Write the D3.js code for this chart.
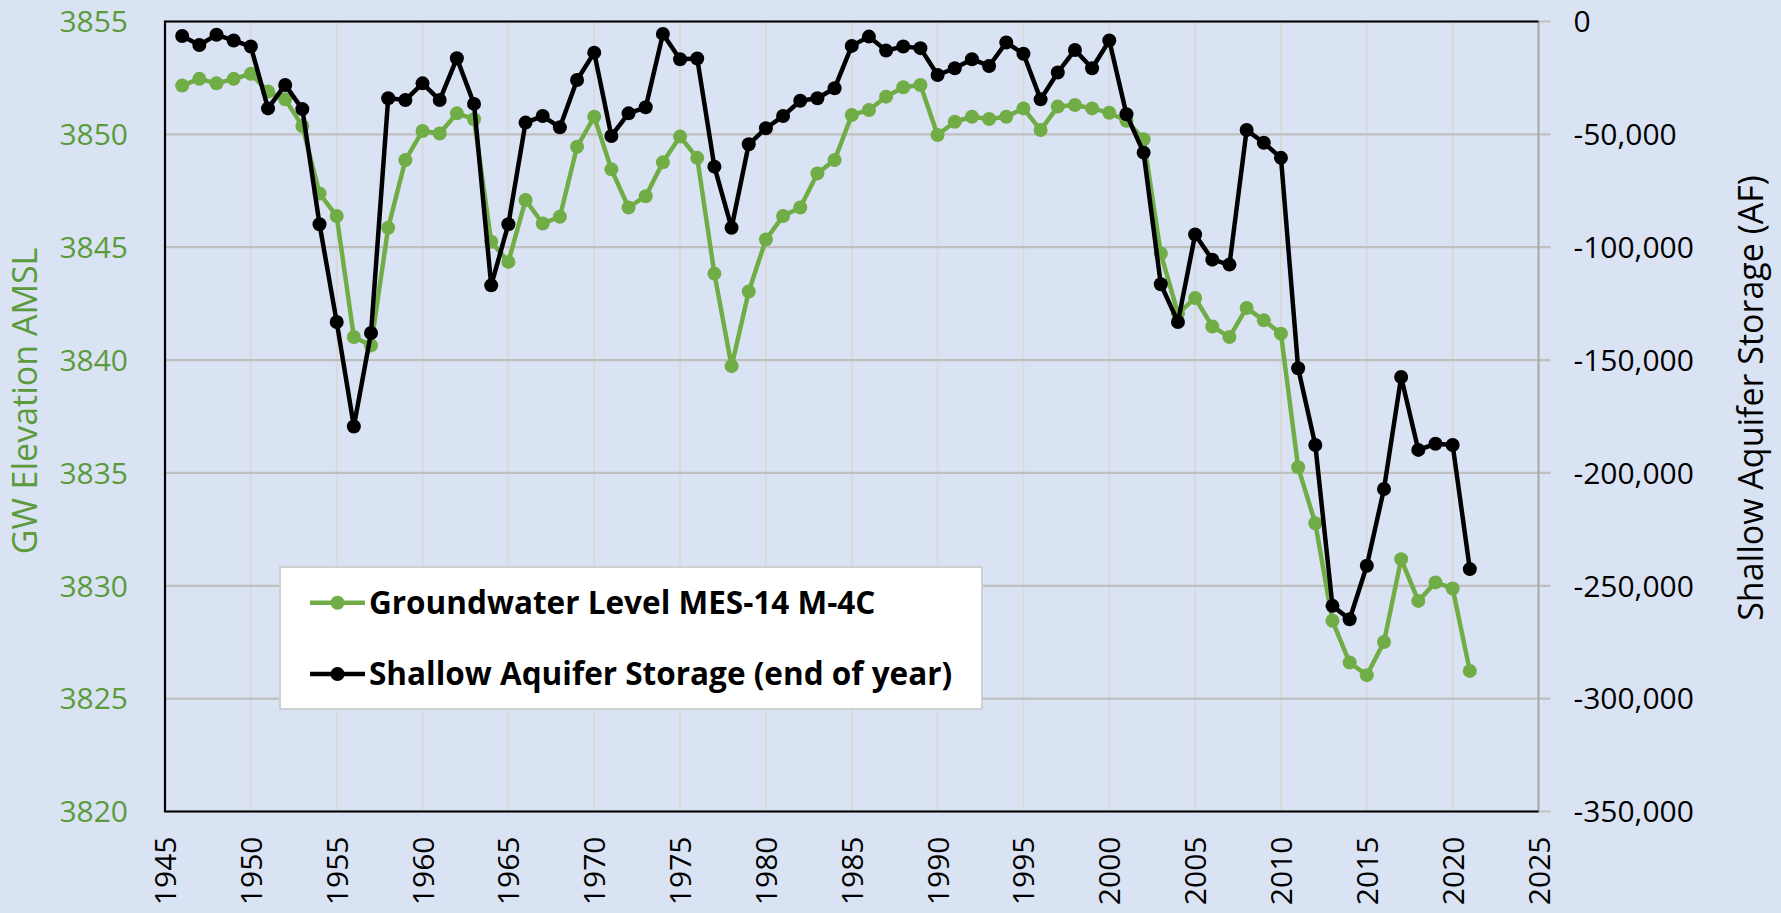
<!DOCTYPE html>
<html>
<head>
<meta charset="utf-8">
<script src="https://cdn.jsdelivr.net/npm/d3@7"></script>
<style>
    body { margin: 0; background: #DAE3F3; }
    svg { display: block; }
    text { font-family: "Open Sans", sans-serif; }
</style>
</head>
<body>
<div id="graphic"></div>
<script>
const years = [1946, 1947, 1948, 1949, 1950, 1951, 1952, 1953, 1954, 1955, 1956, 1957, 1958, 1959,
    1960, 1961, 1962, 1963, 1964, 1965, 1966, 1967, 1968, 1969, 1970, 1971, 1972, 1973, 1974, 1975,
    1976, 1977, 1978, 1979, 1980, 1981, 1982, 1983, 1984, 1985, 1986, 1987, 1988, 1989, 1990, 1991,
    1992, 1993, 1994, 1995, 1996, 1997, 1998, 1999, 2000, 2001, 2002, 2003, 2004, 2005, 2006, 2007,
    2008, 2009, 2010, 2011, 2012, 2013, 2014, 2015, 2016, 2017, 2018, 2019, 2020, 2021]

const gwLevel = [3852.16, 3852.46, 3852.26, 3852.46, 3852.68, 3851.90, 3851.55, 3850.37, 3847.38, 3846.38,
    3841.02, 3840.65, 3845.86, 3848.86, 3850.15, 3850.04, 3850.93, 3850.67, 3845.24, 3844.35,
    3847.09, 3846.05, 3846.35, 3849.45, 3850.78, 3848.45, 3846.76, 3847.26, 3848.76, 3849.90,
    3848.96, 3843.83, 3839.73, 3843.04, 3845.34, 3846.38, 3846.76, 3848.27, 3848.86, 3850.86,
    3851.08, 3851.67, 3852.09, 3852.19, 3849.97, 3850.56, 3850.78, 3850.68, 3850.78, 3851.15,
    3850.19, 3851.23, 3851.30, 3851.15, 3850.96, 3850.60, 3849.78, 3844.72, 3842.06, 3842.75,
    3841.49, 3841.02, 3842.31, 3841.76, 3841.17, 3835.25, 3832.77, 3828.45, 3826.60, 3826.04,
    3827.51, 3831.18, 3829.33, 3830.15, 3829.88, 3826.23]

const storage = [-6400, -10400, -5900, -8400, -11100, -38500, -28100, -38800, -89800, -133100,
    -179400, -138000, -34000, -34800, -27400, -34800, -16300, -36500, -116900, -89800,
    -44800, -41900, -46900, -25900, -13800, -50700, -40700, -38000, -5500, -16700,
    -16400, -64300, -91400, -54400, -47300, -41900, -35100, -34000, -29600, -10800,
    -6700, -12900, -11100, -11800, -23700, -20700, -16700, -19700, -9300, -14300,
    -34500, -22600, -12600, -20700, -8400, -41100, -58100, -116400, -133100, -94400,
    -105500, -107700, -48100, -53700, -60400, -153600, -187600, -258900, -264800, -241100,
    -207100, -157500, -189800, -187100, -187600, -242600]

const xTicks = [1945, 1950, 1955, 1960, 1965, 1970, 1975, 1980, 1985, 1990, 1995, 2000, 2005, 2010, 2015, 2020, 2025]
const leftTicks = [3820, 3825, 3830, 3835, 3840, 3845, 3850, 3855]
const rightTicks = [-350000, -300000, -250000, -200000, -150000, -100000, -50000, 0]
const seriesNames = ["Groundwater Level MES-14 M-4C", "Shallow Aquifer Storage (end of year)"]

const green = "#70AD47"
const labelGreen = "#5B9B3C"
const margin = { top: 21.5, right: 242.5, bottom: 101.5, left: 165 }
const chartWidth = 1781
const chartHeight = 913
const width = chartWidth - margin.left - margin.right
const height = chartHeight - margin.top - margin.bottom

let x = d3.scaleLinear().domain([1945, 2025]).range([0, width])
let yLeft = d3.scaleLinear().domain([3820, 3855]).range([height, 0])
let yRight = d3.scaleLinear().domain([-350000, 0]).range([height, 0])

let svg = d3.select("#graphic").append("svg")
    .attr("width", chartWidth)
    .attr("height", chartHeight)
    .style("background", "#DAE3F3")

let g = svg.append("g")
    .attr("transform", "translate(" + margin.left + "," + margin.top + ")")

// vertical gridlines
g.selectAll(null)
    .data(xTicks.slice(1, -1))
    .enter().append("line")
    .attr("x1", d => x(d)).attr("x2", d => x(d))
    .attr("y1", 0).attr("y2", height)
    .attr("stroke", "#D9D9D9")
    .attr("stroke-width", 2)

// horizontal gridlines, carried out past the right edge as tick marks
g.selectAll(null)
    .data(leftTicks)
    .enter().append("line")
    .attr("x1", 0).attr("x2", width + 12)
    .attr("y1", d => yLeft(d)).attr("y2", d => yLeft(d))
    .attr("stroke", "#BFBFBF")
    .attr("stroke-width", 2.2)

// right axis line (gray), then black frame
g.append("line")
    .attr("x1", width).attr("x2", width)
    .attr("y1", 0).attr("y2", height)
    .attr("stroke", "#A6A6A6")
    .attr("stroke-width", 2)

g.append("path")
    .attr("d", `M${width},0H0V${height}H${width}`)
    .attr("fill", "none")
    .attr("stroke", "#000")
    .attr("stroke-width", 2.2)

// left tick labels
g.selectAll(null)
    .data(leftTicks)
    .enter().append("text")
    .attr("x", -37)
    .attr("y", d => yLeft(d))
    .attr("dy", "0.36em")
    .attr("text-anchor", "end")
    .attr("fill", labelGreen)
    .style("font-size", "30px")
    .text(d => d)

// right tick labels
g.selectAll(null)
    .data(rightTicks)
    .enter().append("text")
    .attr("x", width + 35)
    .attr("y", d => yRight(d))
    .attr("dy", "0.36em")
    .attr("text-anchor", "start")
    .attr("fill", "#000")
    .style("font-size", "30px")
    .text(d => d3.format(",")(d).replace("−", "-"))

// x tick labels, rotated
g.selectAll(null)
    .data(xTicks)
    .enter().append("text")
    .attr("transform", d => `translate(${x(d) + 11},${height + 25}) rotate(-90)`)
    .attr("text-anchor", "end")
    .attr("fill", "#000")
    .style("font-size", "30px")
    .text(d => d)

// axis titles
svg.append("text")
    .attr("transform", "translate(37,401) rotate(-90)")
    .attr("text-anchor", "middle")
    .attr("fill", labelGreen)
    .style("font-size", "34px")
    .text("GW Elevation AMSL")

svg.append("text")
    .attr("transform", "translate(1763,398) rotate(-90)")
    .attr("text-anchor", "middle")
    .attr("fill", "#000")
    .style("font-size", "34px")
    .text("Shallow Aquifer Storage (AF)")

// series
let gwLine = d3.line()
    .x((d, i) => x(years[i]))
    .y(d => yLeft(d))

let storageLine = d3.line()
    .x((d, i) => x(years[i]))
    .y(d => yRight(d))

g.append("path")
    .datum(gwLevel)
    .attr("d", gwLine)
    .attr("fill", "none")
    .attr("stroke", green)
    .attr("stroke-width", 4.5)
    .attr("stroke-linejoin", "round")

g.selectAll(null)
    .data(gwLevel)
    .enter().append("circle")
    .attr("cx", (d, i) => x(years[i]))
    .attr("cy", d => yLeft(d))
    .attr("r", 7)
    .attr("fill", green)

g.append("path")
    .datum(storage)
    .attr("d", storageLine)
    .attr("fill", "none")
    .attr("stroke", "#000")
    .attr("stroke-width", 4.5)
    .attr("stroke-linejoin", "round")

g.selectAll(null)
    .data(storage)
    .enter().append("circle")
    .attr("cx", (d, i) => x(years[i]))
    .attr("cy", d => yRight(d))
    .attr("r", 7)
    .attr("fill", "#000")

// legend
let legend = svg.append("g")
    .attr("transform", "translate(280,567)")

legend.append("rect")
    .attr("width", 702)
    .attr("height", 142)
    .attr("fill", "#fff")
    .attr("stroke", "#D0D0D0")
    .attr("stroke-width", 2)

let rows = legend.selectAll(null)
    .data(seriesNames)
    .enter().append("g")
    .attr("transform", (d, i) => `translate(0,${35.7 + i * 71.3})`)

rows.append("line")
    .attr("x1", 30).attr("x2", 85)
    .attr("stroke", (d, i) => i === 0 ? green : "#000")
    .attr("stroke-width", 4.5)

rows.append("circle")
    .attr("cx", 57.5)
    .attr("r", 7)
    .attr("fill", (d, i) => i === 0 ? green : "#000")

rows.append("text")
    .attr("x", 89)
    .attr("dy", "0.36em")
    .attr("fill", "#000")
    .style("font-size", "31.5px")
    .style("font-weight", "bold")
    .text(d => d)
</script>
</body>
</html>
